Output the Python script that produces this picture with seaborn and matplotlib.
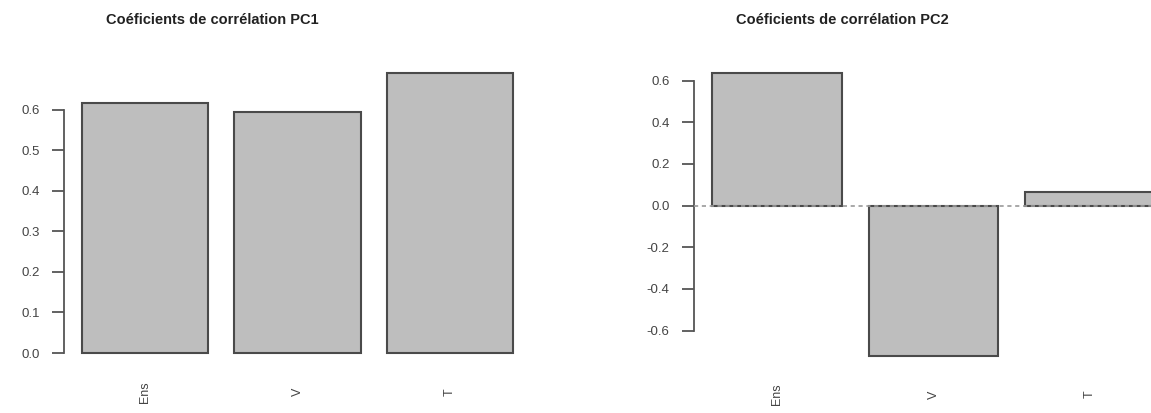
import matplotlib
matplotlib.use("Agg")
import matplotlib.pyplot as plt
import seaborn as sns
import pandas as pd

categories = ["Ens", "V", "T"]
pc1_values = [0.618, 0.594, 0.691]
pc2_values = [0.636, -0.720, 0.064]
pc1_ticks = [0.0, 0.1, 0.2, 0.3, 0.4, 0.5, 0.6]
pc2_ticks = [-0.6, -0.4, -0.2, 0.0, 0.2, 0.4, 0.6]
titles = ["Coéficients de corrélation PC1", "Coéficients de corrélation PC2"]

sns.set_theme(style="white")
plt.rcParams["font.family"] = ["Liberation Sans", "DejaVu Sans"]

W, H = 1151, 413
fig = plt.figure(figsize=(W / 100, H / 100), dpi=100)

def px_axes(left, top, right, bottom):
    return fig.add_axes([left / W, (H - bottom) / H, (right - left) / W, (bottom - top) / H])

ax1 = px_axes(64, 73, 531, 353)
ax2 = px_axes(694, 73, 1173, 355.7)

df1 = pd.DataFrame({"var": categories, "val": pc1_values})
df2 = pd.DataFrame({"var": categories, "val": pc2_values})

for ax, df, ticks, ylim, title, tx in [
    (ax1, df1, pc1_ticks, (0, 0.691), titles[0], 212),
    (ax2, df2, pc2_ticks, (-0.720, 0.636), titles[1], 842),
]:
    if ax is ax2:
        ax.axhline(0, ls=(0, (2.5, 2.2)), color="#9a9a9a", lw=1.2, zorder=3)
    sns.barplot(data=df, x="var", y="val", ax=ax, color="#bebebe",
                edgecolor="#4a4a4a", linewidth=1.5, width=0.83, saturation=1,
                order=categories)
    for p in ax.patches:
        p.set_clip_on(False)
    ax.set_xlim(-0.53, 2.53)
    ax.set_ylim(*ylim)
    ax.set_yticks(ticks)
    ax.set_yticklabels([f"{t:.1f}" for t in ticks])
    ax.set_xlabel("")
    ax.set_ylabel("")
    for s in ["top", "right", "bottom"]:
        ax.spines[s].set_visible(False)
    ax.spines["left"].set_bounds(ticks[0], ticks[-1])
    ax.spines["left"].set_color("#555555")
    ax.spines["left"].set_linewidth(1.3)
    ax.tick_params(axis="y", left=True, length=8.5, width=1.3, color="#555555",
                   pad=9, labelsize=9.5, labelcolor="#444444")
    ax.tick_params(axis="x", bottom=False, pad=22, labelsize=9, labelcolor="#444444")
    for lab in ax.get_xticklabels():
        lab.set_rotation(90)
        lab.set_va("center")
        lab.set_ha("center")
    ax.patch.set_alpha(0)
    fig.text(tx / W, 1 - 20 / H, title, ha="center", va="center",
             fontsize=10.5, fontweight="bold", color="#222222")

fig.savefig("out.png", dpi=100, facecolor="white")
